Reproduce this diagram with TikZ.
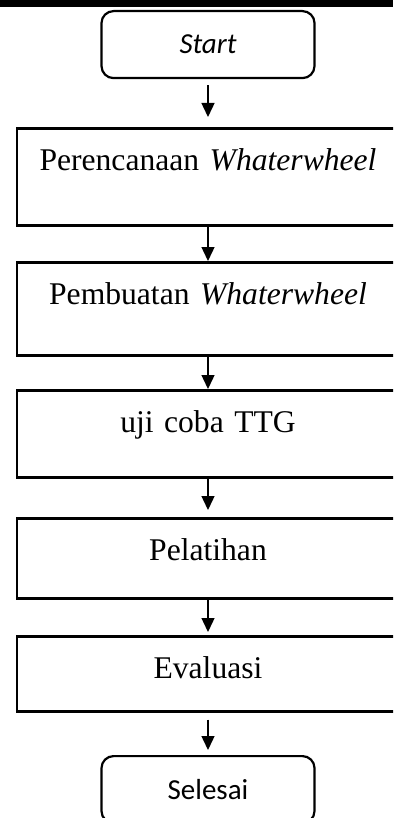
\documentclass[tikz,border=0pt]{standalone}
\usepackage{fontspec}
\setmainfont{Liberation Serif}
\newfontfamily\calibri{Carlito}
\usepackage{tikz}
\usetikzlibrary{arrows.meta}
\definecolor{ink}{HTML}{000000}
\tikzset{
  stepbox/.style={draw=ink, line width=2.6pt, rectangle, inner sep=0pt, text width=382pt,
    align=center, anchor=north, font=\fontsize{31.6}{38}\selectfont, text height=42pt},
  termbox/.style={draw=ink, line width=2.2pt, rounded corners=12pt, minimum width=213pt,
    minimum height=67pt, anchor=north, font=\calibri\fontsize{29}{35}\selectfont},
  flow/.style={draw=ink, line width=1.4pt, -{Triangle[width=13pt,length=14pt]}}
}

\begin{document}
\begin{tikzpicture}[x=1pt, y=1pt]
  \path[use as bounding box, clip] (0,0) rectangle (393,-818);
  \fill[ink] (0,0) rectangle (393,-7);

  \node[termbox] (start) at (208,-10) {\itshape Start};
  \node[stepbox, text depth=55pt] (plan) at (208,-127) {Perencanaan \textit{Whaterwheel}};
  \node[stepbox, text depth=51pt] (build) at (208,-261) {Pembuatan \textit{Whaterwheel}};
  \node[stepbox, text depth=45pt] (trial) at (208,-389) {uji coba TTG};
  \node[stepbox, text depth=38pt] (train) at (208,-517) {Pelatihan};
  \node[stepbox, text depth=33pt] (eval) at (208,-635) {Evaluasi};
  \node[termbox] (finish) at (208,-755) {Selesai};

  \draw[flow, shorten <=6pt, shorten >=10pt] (start) -- (plan);
  \draw[flow] (plan) -- (build);
  \draw[flow] (build) -- (trial);
  \draw[flow, shorten >=7pt] (trial) -- (train);
  \draw[flow, shorten >=3pt] (train) -- (eval);
  \draw[flow, shorten <=7pt, shorten >=5pt] (eval) -- (finish);
\end{tikzpicture}
\end{document}
